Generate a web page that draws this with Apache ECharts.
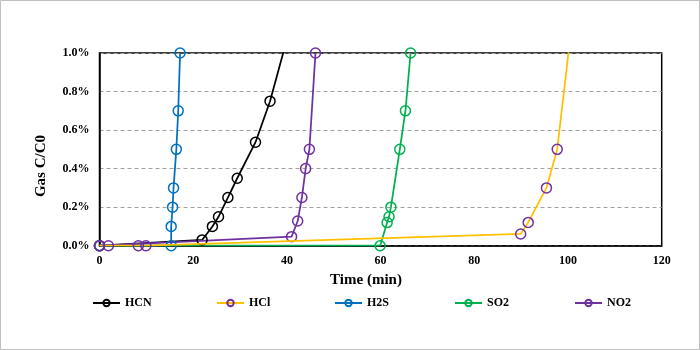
<!DOCTYPE html>
<html>
<head>
<meta charset="utf-8">
<script src="https://cdn.jsdelivr.net/npm/echarts@6/dist/echarts.min.js"></script>
<style>html,body{margin:0;padding:0;background:#fff}#c{width:700px;height:350px}</style>
</head>
<body>
<div id="c"></div>
<script>
// Data (time in min, concentration in %)
const seriesNames = ['HCN', 'HCl', 'H2S', 'SO2', 'NO2'];
const xTicks = [0, 20, 40, 60, 80, 100, 120];
const yTicks = [0, 0.2, 0.4, 0.6, 0.8, 1.0];
const hcn = [[0, 0], [21.9, 0.03], [24.1, 0.1], [25.4, 0.15], [27.4, 0.25], [29.4, 0.35], [33.3, 0.537], [36.4, 0.75], [41, 1.16]];
const hcl = [[0, 0], [1.9, 0], [8.3, 0], [9.9, 0], [89.9, 0.061], [91.5, 0.121], [95.4, 0.3], [97.7, 0.5], [101, 1.19]];
const h2s = [[0, 0], [15.3, 0], [15.3, 0.1], [15.6, 0.2], [15.8, 0.3], [16.4, 0.5], [16.8, 0.7], [17.2, 1.0]];
const so2 = [[0, 0], [59.9, 0], [61.4, 0.12], [61.8, 0.15], [62.2, 0.2], [64.1, 0.5], [65.3, 0.7], [66.4, 1.0]];
const no2 = [[0, 0], [41.0, 0.047], [42.3, 0.128], [43.2, 0.25], [44.0, 0.4], [44.8, 0.5], [46.1, 1.0]];

const F = "'Liberation Serif','Times New Roman',serif";
function mk(name, data, lineColor, markColor, z) {
  return {
    name: name, type: 'line', data: data, z: z, clip: true,
    symbol: 'circle', symbolSize: 10,
    lineStyle: { color: lineColor, width: 1.75 },
    itemStyle: { color: 'rgba(255,255,255,0)', borderColor: markColor, borderWidth: 1.5 },
    emphasis: { disabled: true }
  };
}
const legendLefts = [87, 211, 329, 449, 569];
const legends = seriesNames.map((n, i) => ({
  data: [n], left: legendLefts[i], top: 292, itemWidth: 27, itemHeight: 8,
  textStyle: { color: '#000', fontFamily: F, fontWeight: 'bold', fontSize: 12 },
  selectedMode: false
}));
const chart = echarts.init(document.getElementById('c'), null, { renderer: 'canvas' });
chart.setOption({
  animation: false,
  grid: { left: 99.5, right: 38.3, top: 53, bottom: 104.3, show: true, borderColor: '#000', borderWidth: 1.5, backgroundColor: 'transparent' },
  xAxis: {
    type: 'value', min: xTicks[0], max: xTicks[xTicks.length - 1], interval: 20,
    axisLine: { show: true, lineStyle: { color: '#000', width: 1.5 } },
    axisTick: { show: false },
    splitLine: { show: false },
    axisLabel: { color: '#000', fontFamily: F, fontWeight: 'bold', fontSize: 12, margin: 9 }
  },
  yAxis: {
    type: 'value', min: yTicks[0], max: yTicks[yTicks.length - 1], interval: 0.2,
    axisLine: { show: true, lineStyle: { color: '#000', width: 1.5 } },
    axisTick: { show: false },
    splitLine: { show: true, lineStyle: { color: '#a0a0a0', type: [4, 3], width: 1 } },
    axisLabel: { color: '#000', fontFamily: F, fontWeight: 'bold', fontSize: 12, margin: 10,
      formatter: v => v.toFixed(1) + '%' }
  },
  legend: legends,
  graphic: [
    { type: 'rect', shape: { x: 0.5, y: 0.5, width: 699, height: 349 }, style: { fill: 'none', stroke: '#bfbfbf', lineWidth: 1 }, silent: true },
    { type: 'text', x: 41, y: 166, rotation: Math.PI / 2, style: { text: 'Gas C/C0', font: 'bold 15px ' + F, fill: '#000', textAlign: 'center', textVerticalAlign: 'middle' } },
    { type: 'text', x: 366, y: 280, style: { text: 'Time (min)', font: 'bold 15px ' + F, fill: '#000', textAlign: 'center', textVerticalAlign: 'middle' } }
  ],
  series: [
    mk('HCN', hcn, '#000000', '#000000', 2),
    mk('HCl', hcl, '#FFC000', '#7030A0', 3),
    mk('H2S', h2s, '#0070C0', '#0070C0', 2),
    mk('SO2', so2, '#00B050', '#00B050', 2),
    mk('NO2', no2, '#7030A0', '#7030A0', 2)
  ]
});
</script>
</body>
</html>
